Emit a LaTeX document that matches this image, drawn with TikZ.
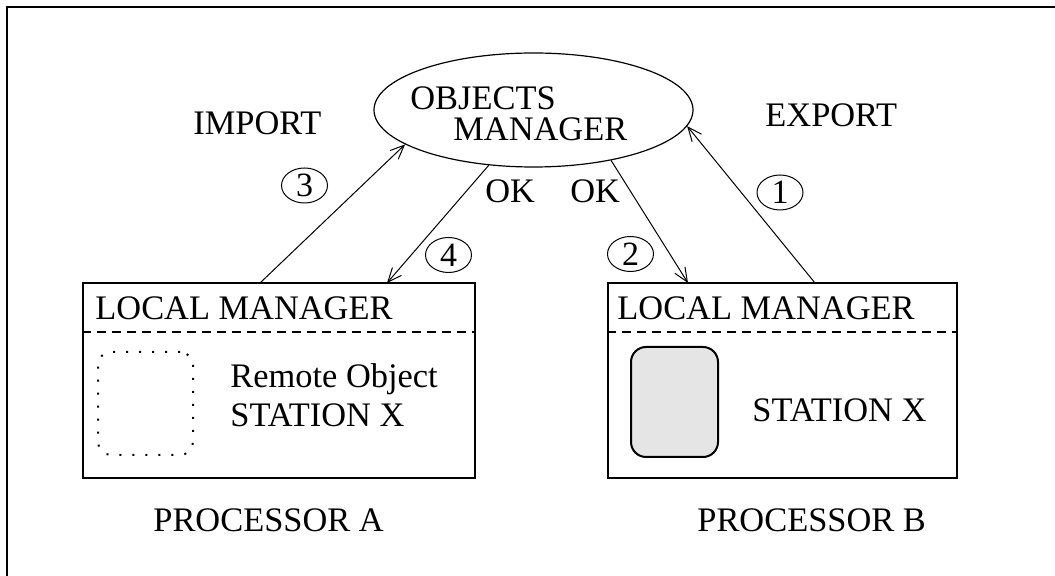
\documentclass[tikz,border=0pt]{standalone}
\usepackage{fontspec}
\setmainfont{Liberation Serif}
\usetikzlibrary{shapes.geometric,arrows.meta}

\begin{document}
\begin{tikzpicture}[x=0.5pt, y=-0.5pt, draw=black,
  font=\fontsize{17.2}{20.6}\selectfont,
  txt/.style={inner sep=0, anchor=base west},
  num/.style={draw, ellipse, line width=0.5pt, inner sep=0, minimum width=23pt, minimum height=17.5pt, font=\fontsize{17}{18}\selectfont},
  procbox/.style={draw, line width=0.6pt, inner sep=0},
  msg/.style={line width=0.5pt, -{Straight Barb[length=7pt, width=6pt]}}]

\useasboundingbox (0,0) rectangle (1055,576);
\draw[line width=0.8pt] (7,7) rectangle (1070,590);

% objects manager
\node[draw, ellipse, line width=0.6pt, inner sep=0, minimum width=159.5pt, minimum height=57pt] (om) at (533.5,110) {};
\node[txt] (omA) at (410,110) {OBJECTS};
\node[txt] (omB) at (453,141) {MANAGER};

\node[txt] (imp) at (193,135) {IMPORT};
\node[txt] (exp) at (765,127) {EXPORT};

% processor A
\node[procbox, minimum width=196pt, minimum height=97.5pt] (boxA) at (279,380.5) {};
\draw[line width=1pt, dash pattern=on 4.5pt off 3pt] (boxA.west |- 0,332) -- (boxA.east |- 0,332);
\node[txt] (lmA) at (95,320) {LOCAL MANAGER};
\node[draw, line width=1pt, dash pattern=on 1pt off 5.5pt, rounded corners=6.5pt, inner sep=0, minimum width=47.5pt, minimum height=51.5pt] (remA) at (145.5,403.5) {};
\node[txt] (roA) at (230,388) {Remote Object};
\node[txt] (stA) at (230,427) {STATION X};
\node[txt] (prA) at (153,532) {PROCESSOR A};

% processor B
\node[procbox, minimum width=174.5pt, minimum height=97.5pt] (boxB) at (782.5,380.5) {};
\draw[line width=1pt, dash pattern=on 4.5pt off 3pt] (boxB.west |- 0,332) -- (boxB.east |- 0,332);
\node[txt] (lmB) at (617,320) {LOCAL MANAGER};
\node[draw, line width=1pt, fill=black!10, rounded corners=7.5pt, inner sep=0, minimum width=43.5pt, minimum height=55pt] (objB) at (674.5,402) {};
\node[txt] (stB) at (752,422) {STATION X};
\node[txt] (prB) at (697,532) {PROCESSOR B};

% messages
\coordinate (a3) at (260,283);
\coordinate (a4) at (387,283);
\coordinate (b2) at (688,283);
\coordinate (b1) at (815,283);
\draw[msg] (b1) -- (om.354.8);
\draw[msg] (om.327.3) -- (b2);
\draw[msg] (a3) -- (om.195.4);
\draw[msg] (om.231.4) -- (a4);

\node[txt] (okA) at (485,203) {OK};
\node[txt] (okB) at (570,203) {OK};

\node[num] (n1) at (780,192.5) {1};
\node[num] (n2) at (630.5,254) {2};
\node[num] (n3) at (304.5,185.5) {3};
\node[num] (n4) at (448.5,255) {4};
\end{tikzpicture}
\end{document}
